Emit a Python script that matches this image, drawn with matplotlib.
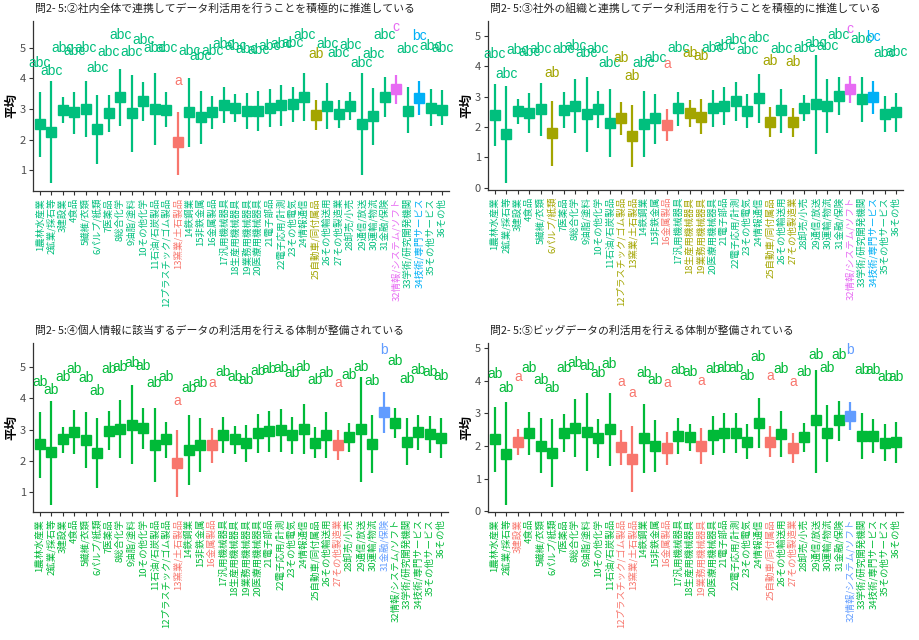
import matplotlib
matplotlib.use('Agg')
import matplotlib.pyplot as plt

plt.rcParams['font.family'] = ['Noto Sans CJK JP', 'DejaVu Sans']

# industry categories (x axis)
industries = ['1農林水産業', '2鉱業/採石等', '3建設業', '4食品', '5繊維/衣類', '6パルプ/紙類',
              '7医薬品', '8総合化学', '9油脂/塗料', '10その他化学', '11石油/石炭製品',
              '12プラスチック/ゴム製品', '13窯業/土石製品', '14鉄鋼業', '15非鉄金属', '16金属製品',
              '17汎用機械器具', '18生産用機械器具', '19業務用機械器具', '20医療用機械器具', '21電子部品',
              '22電子応用/計測', '23その他電気', '24情報通信', '25自動車/同付属品', '26その他輸送用',
              '27その他製造業', '28卸売/小売', '29通信/放送', '30運輸/物流', '31金融/保険',
              '32情報/システム/ソフト', '33学術/研究開発機関', '34技術/専門サービス', '35その他サービス', '36その他']

# panel ②
title2 = '問2- 5:②社内全体で連携してデータ利活用を行うことを積極的に推進している'
mean2 = [2.51, 2.25, 2.98, 2.90, 3.00, 2.35, 2.87, 3.40, 2.87, 3.26, 3.00, 2.98,
         1.92, 2.90, 2.73, 2.90, 3.13, 3.04, 2.95, 2.93, 3.04, 3.13, 3.15, 3.40,
         2.80, 3.11, 2.84, 3.09, 2.51, 2.79, 3.40, 3.66, 2.95, 3.37, 3.04, 2.98]
lo2 = [1.44, 0.59, 2.55, 2.19, 2.09, 1.22, 2.24, 2.44, 1.60, 2.60, 1.83, 2.41,
       0.86, 1.78, 1.87, 2.35, 2.55, 2.58, 2.36, 2.30, 2.41, 2.46, 2.57, 2.60,
       2.31, 2.35, 2.38, 2.63, 0.84, 1.84, 2.74, 3.18, 2.22, 2.82, 2.46, 2.49]
hi2 = [3.56, 3.93, 3.39, 3.56, 3.91, 3.45, 3.47, 4.31, 4.11, 3.89, 4.18, 3.55,
       2.91, 4.00, 3.60, 3.44, 3.71, 3.50, 3.53, 3.58, 3.67, 3.77, 3.72, 4.18,
       3.29, 3.86, 3.31, 3.56, 4.16, 3.69, 4.05, 4.11, 3.71, 3.93, 3.64, 3.62]
grp2 = ['abc'] * 12 + ['a'] + ['abc'] * 11 + ['ab'] + ['abc'] * 6 + ['c', 'abc', 'bc', 'abc', 'abc']

# panel ③
title3 = '問2- 5:③社外の組織と連携してデータ利活用を行うことを積極的に推進している'
mean3 = [2.40, 1.76, 2.54, 2.47, 2.58, 1.79, 2.56, 2.69, 2.43, 2.58, 2.12, 2.29,
         1.70, 2.10, 2.29, 2.07, 2.62, 2.45, 2.34, 2.62, 2.69, 2.86, 2.53, 2.95,
         2.18, 2.56, 2.15, 2.62, 2.76, 2.69, 3.03, 3.24, 2.91, 2.98, 2.43, 2.48]
lo3 = [1.37, 0.14, 2.10, 1.79, 1.71, 0.71, 1.96, 1.79, 1.19, 1.96, 1.00, 1.74,
       0.67, 1.02, 1.44, 1.54, 2.03, 2.01, 1.76, 1.99, 2.07, 2.21, 1.96, 2.14,
       1.68, 1.81, 1.68, 2.20, 1.11, 1.79, 2.40, 2.78, 2.18, 2.43, 1.85, 1.85]
hi3 = [3.42, 3.36, 2.92, 3.11, 3.46, 2.87, 3.16, 3.58, 3.66, 3.20, 3.27, 2.84,
       2.73, 3.20, 3.09, 2.59, 3.16, 2.89, 2.91, 3.22, 3.33, 3.49, 3.08, 3.74,
       2.67, 3.27, 2.64, 3.05, 4.37, 3.58, 3.66, 3.68, 3.64, 3.52, 3.02, 3.11]
grp3 = ['abc'] * 5 + ['ab'] + ['abc'] * 5 + ['ab', 'ab', 'abc', 'abc', 'a', 'abc', 'ab', 'ab'] + \
       ['abc'] * 5 + ['ab', 'abc', 'ab'] + ['abc'] * 4 + ['c', 'abc', 'bc', 'abc', 'abc']

# panel ④
title4 = '問2- 5:④個人情報に該当するデータの利活用を行える体制が整備されている'
mean4 = [2.52, 2.27, 2.68, 2.93, 2.66, 2.25, 2.96, 3.02, 3.14, 3.04, 2.50, 2.68,
         1.91, 2.34, 2.50, 2.50, 2.84, 2.68, 2.58, 2.88, 2.95, 2.98, 2.82, 3.02,
         2.58, 2.82, 2.50, 2.75, 3.02, 2.55, 3.55, 3.20, 2.61, 2.91, 2.86, 2.72]
lo4 = [1.45, 0.57, 2.23, 2.21, 1.75, 1.11, 2.34, 2.07, 1.88, 2.39, 1.30, 2.09,
       0.84, 1.21, 1.64, 1.93, 2.23, 2.21, 1.97, 2.23, 2.29, 2.29, 2.21, 2.21,
       2.07, 2.07, 2.02, 2.27, 1.32, 1.59, 2.88, 2.72, 1.86, 2.34, 2.25, 2.07]
hi4 = [3.57, 3.93, 3.07, 3.63, 3.55, 3.36, 3.61, 3.95, 4.43, 3.68, 3.70, 3.23,
       2.98, 3.47, 3.36, 3.04, 3.41, 3.11, 3.14, 3.50, 3.61, 3.65, 3.39, 3.81,
       3.09, 3.57, 2.98, 3.22, 4.70, 3.47, 4.22, 3.68, 3.36, 3.47, 3.45, 3.36]
grp4 = ['ab'] * 12 + ['a', 'ab', 'ab', 'a'] + ['ab'] * 10 + ['a'] + ['ab'] * 3 + ['b'] + ['ab'] * 5

# panel ⑤
title5 = '問2- 5:⑤ビッグデータの利活用を行える体制が整備されている'
mean5 = [2.21, 1.76, 2.11, 2.39, 2.01, 1.78, 2.39, 2.54, 2.44, 2.23, 2.52, 1.96,
         1.61, 2.23, 2.01, 1.93, 2.32, 2.27, 2.00, 2.34, 2.39, 2.39, 2.13, 2.71,
         2.13, 2.36, 1.95, 2.27, 2.78, 2.39, 2.78, 2.93, 2.31, 2.31, 2.10, 2.11]
lo5 = [1.21, 0.19, 1.72, 1.72, 1.16, 0.76, 1.81, 1.67, 1.24, 1.62, 1.40, 1.42,
       0.60, 1.18, 1.21, 1.42, 1.76, 1.85, 1.45, 1.72, 1.78, 1.78, 1.59, 1.95,
       1.67, 1.65, 1.49, 1.83, 1.18, 1.52, 2.16, 2.49, 1.60, 1.78, 1.54, 1.49]
hi5 = [3.20, 3.33, 2.51, 3.03, 2.85, 2.83, 2.97, 3.43, 3.61, 2.82, 3.61, 2.49,
       2.61, 3.28, 2.80, 2.44, 2.87, 2.67, 2.56, 2.93, 3.00, 3.02, 2.66, 3.48,
       2.62, 3.07, 2.39, 2.69, 4.33, 3.26, 3.39, 3.36, 3.02, 2.83, 2.66, 2.72]
grp5 = ['ab', 'ab', 'a'] + ['ab'] * 8 + ['a', 'a', 'ab', 'ab', 'a', 'ab', 'ab', 'a'] + \
       ['ab'] * 5 + ['a', 'ab', 'a'] + ['ab'] * 4 + ['b'] + ['ab'] * 4

pal5 = {'a': '#F8766D', 'ab': '#A3A500', 'abc': '#00BF7D', 'bc': '#00B0F6', 'c': '#E76BF3'}
pal3 = {'a': '#F8766D', 'ab': '#00BA38', 'b': '#619CFF'}

W, H = 920, 640
fig = plt.figure(figsize=(W / 100, H / 100), dpi=100)

panels = [
    (title2, mean2, lo2, hi2, grp2, pal5, (33, 21, 449, 191), (0.33, 5.87), [1, 2, 3, 4, 5]),
    (title3, mean3, lo3, hi3, grp3, pal5, (488, 21, 903, 190), (-0.08, 5.5), [0, 1, 2, 3, 4, 5]),
    (title4, mean4, lo4, hi4, grp4, pal3, (33, 343, 448, 512), (0.35, 5.78), [1, 2, 3, 4, 5]),
    (title5, mean5, lo5, hi5, grp5, pal3, (488, 343, 903, 512), (-0.02, 5.15), [0, 1, 2, 3, 4, 5]),
]

x = list(range(1, len(industries) + 1))

for title, mean, lo, hi, grp, pal, box, ylim, yticks in panels:
    l, t, r, b = box
    ax = fig.add_axes([l / W, 1 - b / H, (r - l) / W, (b - t) / H])
    cols = [pal[g] for g in grp]
    for xi, m, lo_i, hi_i, g, c in zip(x, mean, lo, hi, grp, cols):
        ax.vlines(xi, lo_i, hi_i, color=c, lw=1.6)
        ax.plot(xi, m, 's', ms=7.5, color=c, mec=c)
        # letters sit a fixed distance above the mean
        ax.text(xi, m + 2.0, g, color=c, ha='center', va='center', fontsize=10,
                family=['Liberation Sans', 'DejaVu Sans'])
    ax.set_xlim(0.4, 36.6)
    ax.set_ylim(*ylim)
    ax.set_yticks(yticks)
    ax.set_xticks(x)
    ax.set_xticklabels(industries, rotation=90, fontsize=6.8)
    for lab, c in zip(ax.get_xticklabels(), cols):
        lab.set_color(c)
    ax.spines['top'].set_visible(False)
    ax.spines['right'].set_visible(False)
    for s in ('left', 'bottom'):
        ax.spines[s].set_color('#333333')
        ax.spines[s].set_linewidth(0.9)
    ax.tick_params(axis='both', length=3, color='#333333', width=0.8, pad=2)
    ax.tick_params(axis='y', labelsize=8, labelcolor='#4D4D4D')
    fig.text((l + 2) / W, 1 - (t - 13) / H, title, ha='left', va='center', fontsize=7.8, color='#222222')
    fig.text((l - 21) / W, 1 - ((t + b) / 2) / H, '平均', rotation=90, ha='center', va='center',
             fontsize=9, fontweight='bold')

fig.savefig('out.png', dpi=100)
